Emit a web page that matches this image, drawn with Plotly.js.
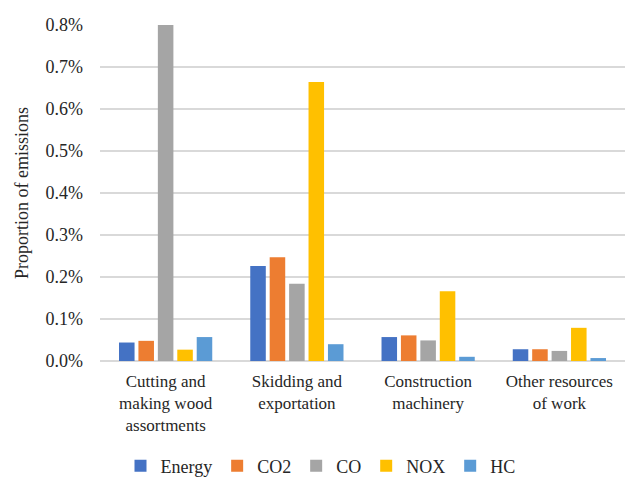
<!DOCTYPE html>
<html><head><meta charset="utf-8">
<script src="https://cdn.plot.ly/plotly-3.0.1.min.js"></script>
<style>body{margin:0;background:#fff}#chart{width:632px;height:479px}</style>
</head><body><div id="chart"></div>
<script>
const categories = ["Cutting and<br>making wood<br>assortments", "Skidding and<br>exportation", "Construction<br>machinery", "Other resources<br>of work"];
const energy = [0.00044, 0.00226, 0.00057, 0.00028];
const co2    = [0.00048, 0.00247, 0.00061, 0.00028];
const co     = [0.00800, 0.00184, 0.00049, 0.00024];
const nox    = [0.00027, 0.00664, 0.00166, 0.00079];
const hc     = [0.00057, 0.00040, 0.00010, 0.00007];
const seriesNames = ["Energy", "CO2", "CO", "NOX", "HC"];
const colors = ["#4472C4", "#ED7D31", "#A5A5A5", "#FFC000", "#5B9BD5"];
const values = [energy, co2, co, nox, hc];

const traces = values.map((v, i) => ({
  type: 'bar', name: seriesNames[i], x: categories, y: v,
  marker: {color: colors[i]}, hoverinfo: 'skip'
}));

const fam = "'Liberation Serif', 'DejaVu Serif', serif";
const txt = '#262626';
const layout = {
  width: 632, height: 479,
  margin: {l: 100, r: 7, t: 25, b: 118},
  paper_bgcolor: '#fff', plot_bgcolor: '#fff',
  font: {family: fam, size: 17, color: txt},
  barmode: 'group', bargap: 0.26, bargroupgap: 0.2,
  showlegend: true,
  legend: {orientation: 'h', xref: 'paper', x: 0.42, xanchor: 'center', yref: 'container', y: 0.027, yanchor: 'middle',
           font: {family: fam, size: 18, color: txt}, itemwidth: 30, tracegroupgap: 0},
  xaxis: {showgrid: false, showline: false, ticks: '', ticklabelstandoff: 8,
          tickfont: {family: fam, size: 17, color: txt}},
  yaxis: {range: [0, 0.008], dtick: 0.001, tickformat: '.1%', showgrid: true, gridcolor: '#D9D9D9', gridwidth: 1.3,
          zeroline: true, zerolinecolor: '#D9D9D9', zerolinewidth: 1.3, showline: false, ticks: '',
          ticklabelstandoff: 16,
          tickfont: {family: fam, size: 18, color: txt},
          title: {text: 'Proportion of emissions', font: {family: fam, size: 18, color: txt}, standoff: 12}}
};
Plotly.newPlot('chart', traces, layout, {displayModeBar: false, staticPlot: true});
</script></body></html>
